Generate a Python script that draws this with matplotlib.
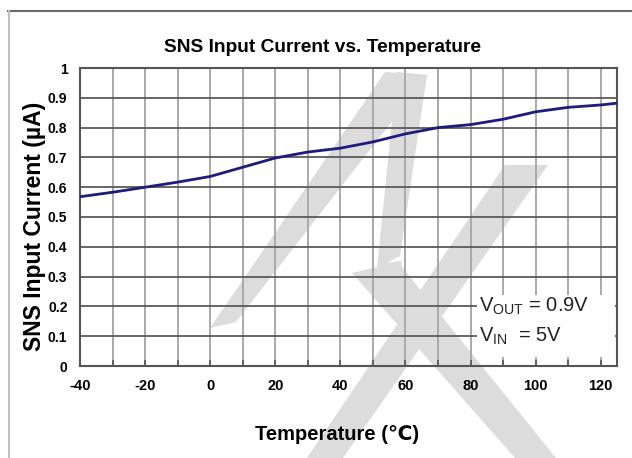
import matplotlib
matplotlib.use("Agg")
import matplotlib.pyplot as plt
from matplotlib.patches import Polygon, Rectangle
from matplotlib.lines import Line2D
import numpy as np

# ---- data ----
temperature = [-40, -30, -20, -10, 0, 10, 20, 30, 40, 50, 60, 70, 80, 90, 100, 110, 120, 125]
current_uA = [0.568, 0.583, 0.600, 0.617, 0.636, 0.667, 0.698, 0.718, 0.731, 0.752,
              0.779, 0.800, 0.810, 0.828, 0.853, 0.868, 0.876, 0.882]
x_ticks = [-40, -20, 0, 20, 40, 60, 80, 100, 120]
y_ticks = [0, 0.1, 0.2, 0.3, 0.4, 0.5, 0.6, 0.7, 0.8, 0.9, 1]
y_tick_labels = ["0", "0.1", "0.2", "0.3", "0.4", "0.5", "0.6", "0.7", "0.8", "0.9", "1"]
title = "SNS Input Current vs. Temperature"
xlabel = "Temperature (\u2103)"
ylabel = "SNS Input Current (\u00b5A)"
note1 = r"V$_{\mathregular{OUT}}$ = 0.9V"
note2 = r"V$_{\mathregular{IN}}$  = 5V"

FONT = ["Liberation Sans", "DejaVu Sans"]
plt.rcParams["font.family"] = FONT
plt.rcParams["axes.unicode_minus"] = False
plt.rcParams["mathtext.fontset"] = "custom"
plt.rcParams["mathtext.rm"] = "Liberation Sans"

W, H = 632, 458
fig = plt.figure(figsize=(W / 100, H / 100), dpi=100)
fig.patch.set_facecolor("white")

# background layer (watermark + frame), pixel coordinates
bg = fig.add_axes([0, 0, 1, 1], zorder=0)
bg.set_xlim(0, W)
bg.set_ylim(H, 0)
bg.axis("off")
wm = "#dcdcdc"
shapes = [
    [(210, 328), (236, 322), (428, 75), (385, 72)],
    [(397, 72), (427, 75), (400, 256), (377, 268)],
    [(377, 268), (385, 263), (402, 261), (400, 276)],
    [(352, 273), (398, 262), (556, 458), (515, 458)],
    [(505, 165), (548, 165), (343, 458), (307, 458)],
]
for s in shapes:
    bg.add_patch(Polygon(s, closed=True, facecolor=wm, edgecolor="none"))
bg.add_line(Line2D([8, W], [11, 11], color="#6a6a6a", lw=1.5))
bg.add_line(Line2D([9, 9], [11, H], color="#c0c0c0", lw=1.5))

# main axes
left, right, top, bottom = 80, 617, 68, 366
ax = fig.add_axes([left / W, 1 - bottom / H, (right - left) / W, (bottom - top) / H], zorder=1)
ax.set_facecolor("none")
ax.set_xlim(-40, 125)
ax.set_ylim(0, 1)

for xv in np.arange(-30, 121, 10):
    ax.axvline(xv, color="#a9a9a9", lw=1.4, zorder=0.5)
for yv in y_ticks[1:-1]:
    ax.axhline(yv, color="#5a5a5a", lw=1.3, zorder=0.6)

ax.add_patch(Rectangle((82.0, 0.03), 42.3, 0.208, facecolor="white", edgecolor="none", zorder=2))

ax.plot(temperature, current_uA, color="#1c1c7c", lw=2.0, zorder=3, solid_capstyle="round")

for sp in ax.spines.values():
    sp.set_color("#555555")
    sp.set_linewidth(1.5)

ax.set_xticks(x_ticks)
ax.set_xticks(np.arange(-30, 121, 20), minor=True)
ax.set_yticks(y_ticks)
ax.set_yticklabels(y_tick_labels)
ax.tick_params(axis="x", which="both", direction="in", length=4, width=1.2, color="#555555",
               pad=9, labelsize=10.5)
ax.tick_params(axis="y", which="both", length=0, pad=9, labelsize=10)
for lab in ax.get_xticklabels() + ax.get_yticklabels():
    lab.set_fontweight("bold")

ax.text(82.5, 0.2, note1, fontsize=14.5, va="center", ha="left", zorder=4, color="#222222")
ax.text(82.5, 0.1, note2, fontsize=14.5, va="center", ha="left", zorder=4, color="#222222")

fig.text(322 / W, 1 - 47 / H, title, fontsize=13.8, fontweight="bold", ha="center", va="center")
fig.text(337 / W, 1 - 434 / H, xlabel, fontsize=14.5, fontweight="bold", ha="center", va="center")
fig.text(35 / W, 1 - 226 / H, ylabel, fontsize=16.5, fontweight="bold", ha="center", va="center",
         rotation=90)

fig.savefig("out.png", dpi=100, facecolor="white")
